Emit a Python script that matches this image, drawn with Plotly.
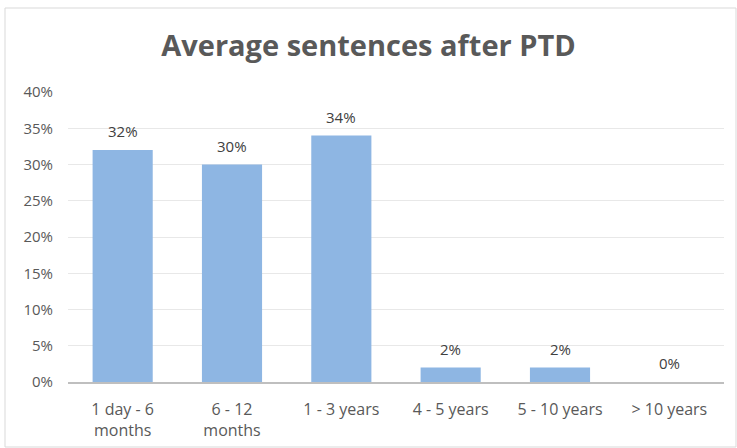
import plotly.graph_objects as go

categories = ["1 day - 6<br>months", "6 - 12<br>months", "1 - 3 years", "4 - 5 years", "5 - 10 years", "> 10 years"]
values = [0.32, 0.30, 0.34, 0.02, 0.02, 0.00]
labels = ["32%", "30%", "34%", "2%", "2%", "0%"]
tick_vals = [0, 0.05, 0.10, 0.15, 0.20, 0.25, 0.30, 0.35, 0.40]
tick_text = ["0%", "5%", "10%", "15%", "20%", "25%", "30%", "35%", "40%"]

W, H = 737, 448
L, R, T, B = 68, 13, 92, 66
pw, ph = W - L - R, H - T - B

FONT = "Open Sans"

fig = go.Figure(go.Bar(
    x=categories, y=values,
    marker=dict(color="#8EB6E3", line=dict(width=0)),
    cliponaxis=False,
))

for c, v, t in zip(categories, values, labels):
    fig.add_annotation(x=c, y=v, text=t, showarrow=False, yanchor="middle",
                       yshift=19, font=dict(family=FONT, size=15, color="#404040"))

def px_x(x):
    return (x - L) / pw

def px_y(y):
    return (H - B - y) / ph

fig.add_shape(type="rect", xref="paper", yref="paper",
              x0=px_x(5), x1=px_x(736), y0=px_y(447), y1=px_y(8),
              line=dict(color="#D9D9D9", width=1), layer="below")

fig.update_layout(
    width=W, height=H,
    margin=dict(l=L, r=R, t=T, b=B, autoexpand=False),
    paper_bgcolor="white", plot_bgcolor="white",
    bargap=0.45,
    showlegend=False,
    title=dict(text="<b>Average sentences after PTD</b>", x=0.5, xanchor="center",
               y=1 - 46 / H, yanchor="middle", yref="container",
               font=dict(family=FONT, size=29, color="#595959")),
    font=dict(family=FONT, size=15, color="#595959"),
)
fig.update_yaxes(range=[0, 0.40], tickvals=tick_vals, ticktext=tick_text,
                 showgrid=True, gridcolor="#E8E8E8", gridwidth=1, automargin=False,
                 zeroline=False, showline=False, ticks="", ticklabelstandoff=14,
                 tickfont=dict(family=FONT, size=15, color="#595959"))
fig.update_xaxes(showline=True, linecolor="#BFBFBF", linewidth=2, ticks="",
                 showgrid=False, ticklabelstandoff=12, automargin=False,
                 tickfont=dict(family=FONT, size=16, color="#595959"))

fig.write_html("out.html", config={"displayModeBar": False},
               post_script="document.body.style.margin='0px';document.body.style.padding='0px';")
